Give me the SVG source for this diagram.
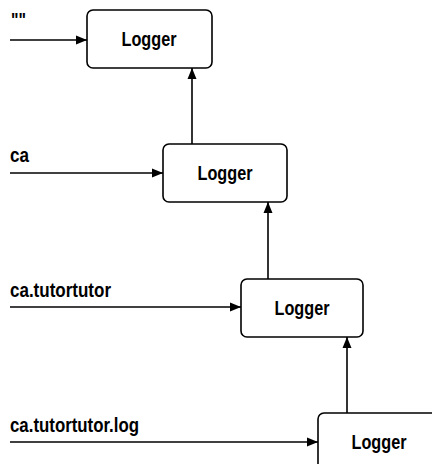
<svg xmlns="http://www.w3.org/2000/svg" width="432" height="464" viewBox="0 0 432 464">
<style>
.box{fill:#fff;stroke:#000;stroke-width:1.6}
.t{font-family:"Liberation Sans",Arial,sans-serif;font-size:20px;font-weight:bold;fill:#000}
.c{text-anchor:middle}
.ln{stroke:#000;stroke-width:1.6;fill:none;marker-end:url(#ah)}
</style>
<defs>
<marker id="ah" viewBox="0 0 11 10" refX="11" refY="5" markerWidth="11" markerHeight="10" markerUnits="userSpaceOnUse" orient="auto">
<path d="M0,0.5 L11,5 L0,9.5 z" fill="#000"/>
</marker>
</defs>
<g id="connectors">
<line class="ln" x1="10" y1="40" x2="87" y2="40"/>
<line class="ln" x1="10" y1="173" x2="163" y2="173"/>
<line class="ln" x1="10" y1="307" x2="241" y2="307"/>
<line class="ln" x1="10" y1="442" x2="318" y2="442"/>
<line class="ln" x1="192" y1="144" x2="192" y2="68"/>
<line class="ln" x1="268" y1="279" x2="268" y2="202"/>
<line class="ln" x1="347" y1="413" x2="347" y2="337"/>
</g>
<g id="label-root"><text class="t" x="11" y="27" textLength="15" lengthAdjust="spacingAndGlyphs">""</text></g>
<g id="label-ca"><text class="t" x="10" y="162" textLength="19" lengthAdjust="spacingAndGlyphs">ca</text></g>
<g id="label-catt"><text class="t" x="10" y="297" textLength="101" lengthAdjust="spacingAndGlyphs">ca.tutortutor</text></g>
<g id="label-cattlog"><text class="t" x="10" y="432" textLength="129" lengthAdjust="spacingAndGlyphs">ca.tutortutor.log</text></g>
<g id="logger1"><rect class="box" x="87" y="10" width="125" height="58" rx="6"/><text class="t c" x="149" y="46" textLength="55" lengthAdjust="spacingAndGlyphs">Logger</text></g>
<g id="logger2"><rect class="box" x="163" y="144" width="124" height="58" rx="6"/><text class="t c" x="225" y="180" textLength="55" lengthAdjust="spacingAndGlyphs">Logger</text></g>
<g id="logger3"><rect class="box" x="241" y="279" width="122" height="58" rx="6"/><text class="t c" x="302" y="315" textLength="55" lengthAdjust="spacingAndGlyphs">Logger</text></g>
<g id="logger4"><rect class="box" x="318" y="413" width="124" height="58" rx="6"/><text class="t c" x="379" y="449" textLength="55" lengthAdjust="spacingAndGlyphs">Logger</text></g>
</svg>
